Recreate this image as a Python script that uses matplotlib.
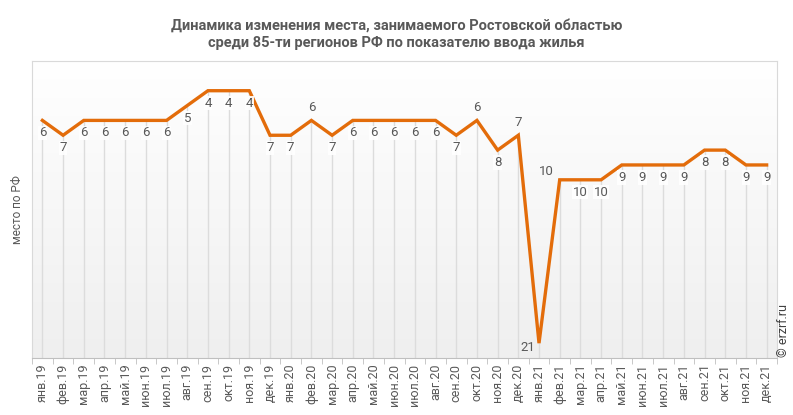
import numpy as np
import matplotlib.pyplot as plt

months = ["янв.19", "фев.19", "мар.19", "апр.19", "май.19", "июн.19", "июл.19", "авг.19",
          "сен.19", "окт.19", "ноя.19", "дек.19",
          "янв.20", "фев.20", "мар.20", "апр.20", "май.20", "июн.20", "июл.20", "авг.20",
          "сен.20", "окт.20", "ноя.20", "дек.20",
          "янв.21", "фев.21", "мар.21", "апр.21", "май.21", "июн.21", "июл.21", "авг.21",
          "сен.21", "окт.21", "ноя.21", "дек.21"]
places = [6, 7, 6, 6, 6, 6, 6, 5, 4, 4, 4, 7,
          7, 6, 7, 6, 6, 6, 6, 6, 7, 6, 8, 7,
          21, 10, 10, 10, 9, 9, 9, 9, 8, 8, 9, 9]
# where the value label sits relative to the point
label_pos = ["b"] * 36
label_pos[13] = "a"   # фев.20
label_pos[21] = "a"   # окт.20
label_pos[23] = "a"   # дек.20
label_pos[24] = "l"   # янв.21
label_pos[25] = "al"  # фев.21

plt.rcParams['font.family'] = ['Roboto', 'DejaVu Sans']
gray = "#595959"
orange = "#E36C0A"

fig = plt.figure(figsize=(7.93, 4.15), dpi=100)
ax = fig.add_axes([0.0404, 0.1373, 0.9394, 0.7157])

x = np.arange(len(months))
ax.set_xlim(-0.5, len(months) - 0.5)
ax.set_ylim(22, 2)

# background gradient
grad = np.linspace(0, 1, 256).reshape(-1, 1)
ax.imshow(grad, extent=[-0.5, len(months) - 0.5, 22, 2], aspect="auto",
          cmap=plt.matplotlib.colors.LinearSegmentedColormap.from_list("g", ["#ffffff", "#efefef"]),
          zorder=0, origin="upper")

# drop lines
ax.vlines(x, places, 22, color="#dcdcdc", lw=1, zorder=1)
ax.plot(x, places, color=orange, lw=2.4, zorder=3, solid_joinstyle="miter")

for xi, v, p in zip(x, places, label_pos):
    if p == "b":
        off, ha = (0, -9), "center"
    elif p == "a":
        off, ha = (0, 9.5), "center"
    elif p == "l":
        off, ha = (-3, -3), "right"
    else:
        off, ha = (-4, 6), "right"
    ax.annotate(str(v), (xi, v), xytext=off, textcoords="offset points",
                ha=ha, va="center", fontsize=9.5, color=gray, zorder=4,
                bbox=dict(boxstyle="square,pad=0.05", fc="white", ec="none", alpha=0.9) if p == "b" else None)

ax.set_xticks(x)
ax.set_xticklabels(months, rotation=90, fontsize=9, color=gray)
ax.tick_params(axis="x", which="major", length=0, pad=4)
ax.set_xticks(np.arange(-0.5, len(months) + 0.5, 1), minor=True)
ax.tick_params(axis="x", which="minor", length=4, color="#bfbfbf", direction="out")
ax.set_yticks([])
for s in ax.spines.values():
    s.set_color("#d9d9d9")
ax.spines["bottom"].set_color("#bfbfbf")

ax.set_ylabel("место по РФ", fontsize=8.5, color=gray, labelpad=6)

fig.text(0.5, 0.955, "Динамика изменения места, занимаемого Ростовской областью\nсреди 85-ти регионов РФ по показателю ввода жилья",
         ha="center", va="top", fontsize=10.5, fontweight="bold", color=gray, linespacing=1.3)
fig.text(0.988, 0.14, "© erzrf.ru", rotation=90, ha="center", va="bottom", fontsize=9, color="#404040")

fig.savefig("out.png", dpi=100)
